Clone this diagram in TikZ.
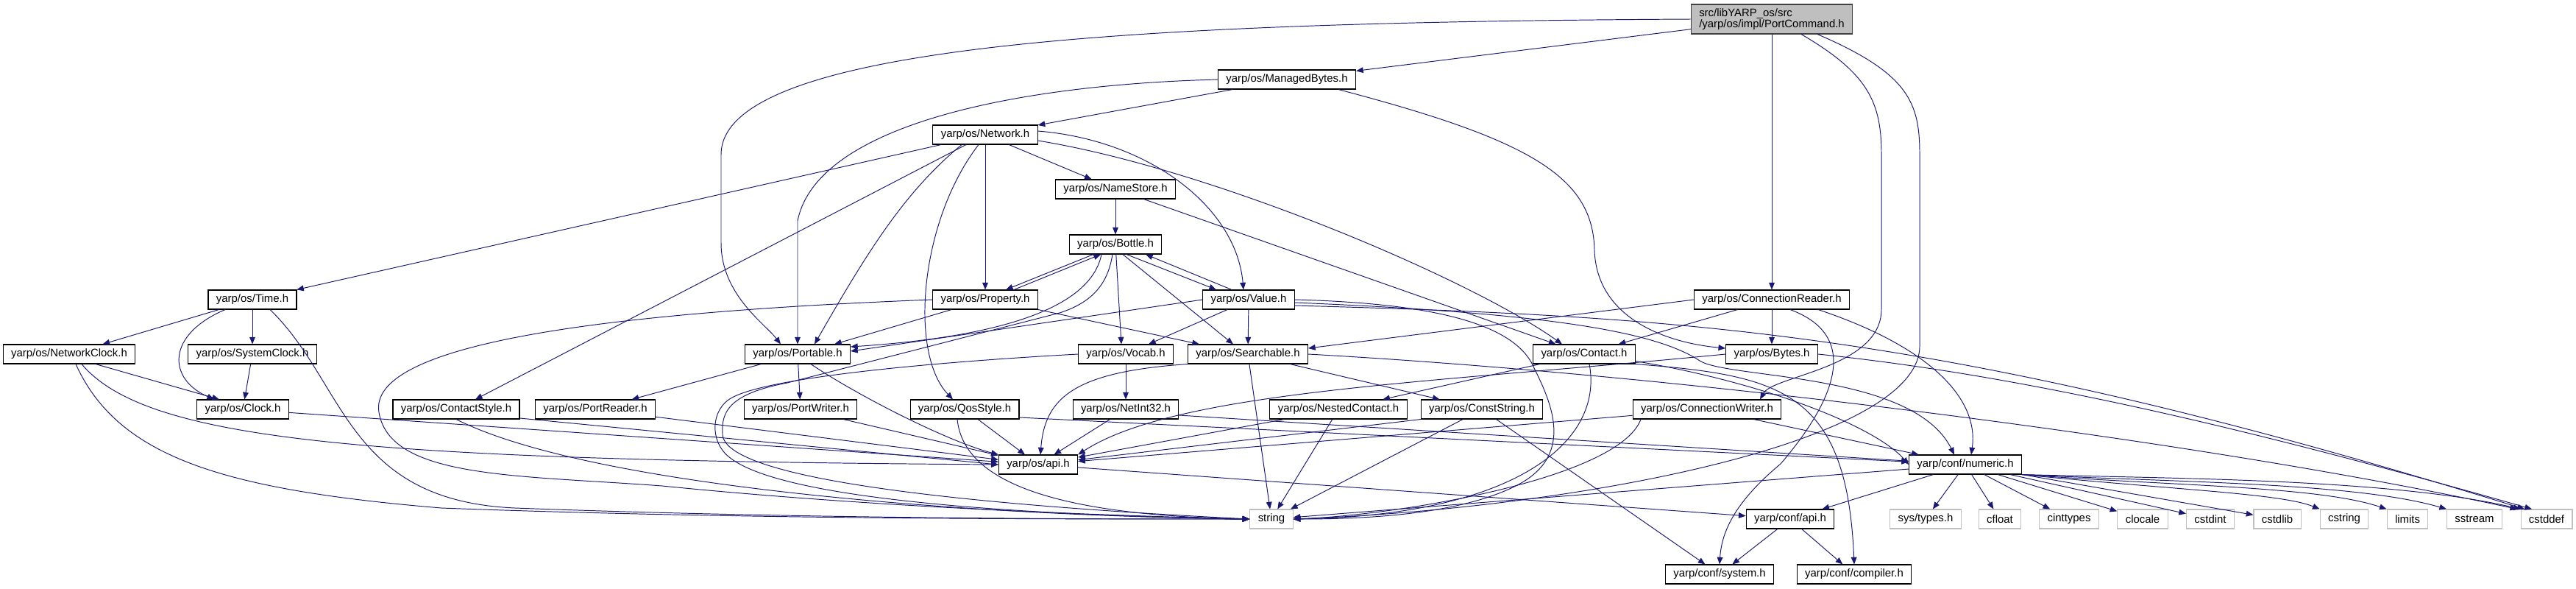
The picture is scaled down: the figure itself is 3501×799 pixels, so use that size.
\documentclass[tikz,border=0pt]{standalone}
\usepackage{fontspec}
\setmainfont{Liberation Sans}
\usepackage{tikz}
\usetikzlibrary{arrows.meta}
\definecolor{edgeblue}{HTML}{191970}
\definecolor{rootgray}{HTML}{BFBFBF}
\tikzset{
    filebox/.style={
        rectangle,
        draw=black,
        fill=white,
        line width=0.6pt,
        minimum height=0.52cm,
        inner xsep=6.2pt,
        inner ysep=0pt,
        font=\fontsize{8.5}{10}\selectfont
    },
    rootbox/.style={
        filebox,
        draw=black!75,
        fill=rootgray,
        minimum height=0.8cm,
        align=left,
        font=\fontsize{8.5}{8.9}\selectfont
    },
    sysbox/.style={
        filebox,
        draw=rootgray
    },
    arrow/.style={
        -{Triangle[length=5.5pt,width=4.4pt]},
        draw=edgeblue,
        line width=0.55pt
    }
}

\begin{document}
\begin{tikzpicture}[x=0.02cm, y=-0.02cm]
    % Root file
    \node[rootbox] (root) at (2408,26) {src/libYARP\_os/src\\/yarp/os/impl/PortCommand.h};

    % yarp/os headers, top to bottom
    \node[filebox] (managedbytes) at (1749,108) {yarp/os/ManagedBytes.h};
    \node[filebox] (network)      at (1339,183) {yarp/os/Network.h};
    \node[filebox] (namestore)    at (1516,257) {yarp/os/NameStore.h};
    \node[filebox] (bottle)       at (1516,332) {yarp/os/Bottle.h};

    \node[filebox] (time)         at (343,407)  {yarp/os/Time.h};
    \node[filebox] (property)     at (1339,407) {yarp/os/Property.h};
    \node[filebox] (value)        at (1697,407) {yarp/os/Value.h};
    \node[filebox] (connreader)   at (2408,407) {yarp/os/ConnectionReader.h};

    \node[filebox] (networkclock) at (94,481)   {yarp/os/NetworkClock.h};
    \node[filebox] (systemclock)  at (343,481)  {yarp/os/SystemClock.h};
    \node[filebox] (portable)     at (1084,481) {yarp/os/Portable.h};
    \node[filebox] (vocab)        at (1530,481) {yarp/os/Vocab.h};
    \node[filebox] (searchable)   at (1696,481) {yarp/os/Searchable.h};
    \node[filebox] (contact)      at (2153,481) {yarp/os/Contact.h};
    \node[filebox] (bytes)        at (2408,481) {yarp/os/Bytes.h};

    \node[filebox] (clock)         at (330,556)  {yarp/os/Clock.h};
    \node[filebox] (contactstyle)  at (620,556)  {yarp/os/ContactStyle.h};
    \node[filebox] (portreader)    at (809,556)  {yarp/os/PortReader.h};
    \node[filebox] (portwriter)    at (1088,556) {yarp/os/PortWriter.h};
    \node[filebox] (qosstyle)      at (1311,556) {yarp/os/QosStyle.h};
    \node[filebox] (netint)        at (1530,556) {yarp/os/NetInt32.h};
    \node[filebox] (nestedcontact) at (1819,556) {yarp/os/NestedContact.h};
    \node[filebox] (conststring)   at (2014,556) {yarp/os/ConstString.h};
    \node[filebox] (connwriter)    at (2320,556) {yarp/os/ConnectionWriter.h};

    \node[filebox] (osapi)   at (1411,631) {yarp/os/api.h};
    \node[filebox] (numeric) at (2671,631) {yarp/conf/numeric.h};

    % Bottom rows
    \node[sysbox]  (string)    at (1728,705) {string};
    \node[filebox] (confapi)   at (2433,705) {yarp/conf/api.h};
    \node[sysbox]  (systypes)  at (2617,705) {sys/types.h};
    \node[sysbox]  (cfloat)    at (2718,705) {cfloat};
    \node[sysbox]  (cinttypes) at (2812,705) {cinttypes};
    \node[sysbox]  (clocale)   at (2912,705) {clocale};
    \node[sysbox]  (cstdint)   at (3004,705) {cstdint};
    \node[sysbox]  (cstdlib)   at (3095,705) {cstdlib};
    \node[sysbox]  (cstring)   at (3186,705) {cstring};
    \node[sysbox]  (limits)    at (3272,705) {limits};
    \node[sysbox]  (sstream)   at (3363,705) {sstream};
    \node[sysbox]  (cstddef)   at (3461,705) {cstddef};
    \node[filebox] (system)    at (2337,780) {yarp/conf/system.h};
    \node[filebox] (compiler)  at (2520,780) {yarp/conf/compiler.h};

    % --- PortCommand.h ---
    \draw[arrow] (root) -- (managedbytes);
    \draw[arrow] (root.west) .. controls (1550,30) and (980,60) .. (980,210) -- (980,330)
                 .. controls (980,400) and (1040,440) .. ([shift={(-23,0)}]portable.north);
    \draw[arrow] (root) -- (connreader);
    \draw[arrow] ([shift={(40,0)}]root.south) .. controls (2540,100) and (2557,140) .. (2557,210) -- (2557,420)
                 .. controls (2557,500) and (2410,510) .. ([shift={(72,0)}]connwriter.north);
    \draw[arrow] ([shift={(62,0)}]root.south) .. controls (2595,100) and (2609,140) .. (2609,210) -- (2609,470)
                 .. controls (2609,600) and (2150,690) .. (string.east);

    % --- ManagedBytes.h ---
    \draw[arrow] (managedbytes) -- (network);
    \draw[arrow] (managedbytes.west) .. controls (1380,115) and (1110,170) .. (1084,300) -- (portable.north);
    \draw[arrow] ([shift={(70,0)}]managedbytes.south) .. controls (2080,190) and (2165,240) .. (2167,340)
                 .. controls (2170,430) and (2260,465) .. ([shift={(0,-8)}]bytes.west);

    % --- Network.h ---
    \draw[arrow] (network) -- (time);
    \draw[arrow] (network) -- (contactstyle);
    \draw[arrow] ([shift={(-32,0)}]network.south) .. controls (1230,260) and (1180,340) .. ([shift={(23,0)}]portable.north);
    \draw[arrow] ([shift={(-9,0)}]network.south) .. controls (1250,300) and (1235,480) .. ([shift={(-16,0)}]qosstyle.north);
    \draw[arrow] (network) -- (property);
    \draw[arrow] (network) -- (namestore);
    \draw[arrow] ([shift={(0,-5)}]network.east) .. controls (1560,190) and (1680,280) .. ([shift={(-7,0)}]value.north);
    \draw[arrow] ([shift={(0,8)}]network.east) .. controls (1650,230) and (2000,380) .. ([shift={(-30,0)}]contact.north);

    % --- NameStore.h ---
    \draw[arrow] (namestore) -- (bottle);
    \draw[arrow] (namestore) -- (contact);

    % --- Bottle.h, Property.h, Value.h ---
    \draw[arrow] ([shift={(-30,0)}]bottle.south) -- ([shift={(28,0)}]property.north);
    \draw[arrow] ([shift={(39,0)}]property.north) -- ([shift={(-20,0)}]bottle.south);
    \draw[arrow] ([shift={(15,0)}]bottle.south) -- ([shift={(-44,0)}]value.north);
    \draw[arrow] ([shift={(-23,0)}]value.north) -- ([shift={(41,0)}]bottle.south);
    \draw[arrow] (bottle) -- ([shift={(-6,0)}]vocab.north);
    \draw[arrow] ([shift={(10,0)}]bottle.south) -- ([shift={(-20,0)}]searchable.north);
    \draw[arrow] ([shift={(-19,0)}]bottle.south) .. controls (1480,430) and (1320,460) .. ([shift={(0,-10)}]portable.east);
    \draw[arrow] ([shift={(-4,0)}]bottle.south) .. controls (1505,390) and (1480,412) .. (1440,425) -- (1070,520)
                 .. controls (990,535) and (980,560) .. (982,590) .. controls (985,650) and (1300,685) .. (string.west);

    \draw[arrow] (property) -- ([shift={(50,0)}]portable.north);
    \draw[arrow] (property.south east) -- ([shift={(-66,0)}]searchable.north);
    \draw[arrow] (property.west) .. controls (800,425) and (500,470) .. (515,560)
                 .. controls (530,650) and (700,645) .. (900,660) .. controls (1200,690) and (1500,700) .. (string.west);

    \draw[arrow] (value.west) -- ([shift={(0,-4)}]portable.east);
    \draw[arrow] ([shift={(-29,0)}]value.south) -- ([shift={(31,0)}]vocab.north);
    \draw[arrow] (value) -- (searchable);
    \draw[arrow] (value.east) .. controls (1950,412) and (2060,440) .. (2085,500)
                 .. controls (2110,550) and (2140,620) .. (2060,660) .. controls (1980,700) and (1850,705) .. (string.east);
    \draw[arrow] ([shift={(0,4)}]value.east) .. controls (2100,425) and (2250,450) .. (2310,490)
                 .. controls (2350,515) and (2600,505) .. ([shift={(-15,0)}]numeric.north);
    \draw[arrow] ([shift={(0,8)}]value.east) .. controls (2300,430) and (2650,450) .. ([shift={(-30,0)}]cstddef.north);

    % --- Time.h and clocks ---
    \draw[arrow] (time) -- (networkclock);
    \draw[arrow] (time) -- (systemclock);
    \draw[arrow] ([shift={(-37,0)}]time.south) .. controls (225,455) and (228,515) .. ([shift={(-39,0)}]clock.north);
    \draw[arrow] ([shift={(24,0)}]time.south) .. controls (470,520) and (470,680) .. (700,690)
                 .. controls (1100,705) and (1500,705) .. (string.west);
    \draw[arrow] ([shift={(36,0)}]networkclock.south) -- ([shift={(-32,0)}]clock.north);
    \draw[arrow] ([shift={(17,0)}]networkclock.south) .. controls (200,600) and (500,625) .. (osapi.west);
    \draw[arrow] ([shift={(9,0)}]networkclock.south) .. controls (160,620) and (300,665) .. (600,690)
                 .. controls (1000,705) and (1400,705) .. (string.west);
    \draw[arrow] (systemclock) -- (clock);
    \draw[arrow] (clock) -- (osapi);

    % --- Portable.h and friends ---
    \draw[arrow] (portable) -- (portreader);
    \draw[arrow] (portable) -- (portwriter);
    \draw[arrow] ([shift={(18,0)}]portable.south) .. controls (1170,540) and (1290,600) .. (osapi.north west);
    \draw[arrow] (portreader) -- (osapi);
    \draw[arrow] (portwriter) -- (osapi);
    \draw[arrow] ([shift={(0,12)}]contactstyle.east) -- (osapi.west);
    \draw[arrow] (contactstyle.south) .. controls (800,660) and (1300,700) .. (string.west);

    \draw[arrow] (qosstyle) -- (osapi);
    \draw[arrow] ([shift={(-10,0)}]qosstyle.south) .. controls (1310,660) and (1450,700) .. (string.west);
    \draw[arrow] ([shift={(0,11)}]qosstyle.east) -- (numeric);

    % --- Vocab.h, NetInt32.h, Searchable.h ---
    \draw[arrow] (vocab) -- (netint);
    \draw[arrow] (vocab.west) .. controls (1300,490) and (1050,510) .. (995,540)
                 .. controls (965,556) and (965,600) .. (990,620) .. controls (1060,680) and (1400,700) .. (string.west);
    \draw[arrow] (netint) -- (osapi);
    \draw[arrow] ([shift={(0,8)}]netint.east) -- (numeric);
    \draw[arrow] (searchable.south west) .. controls (1460,505) and (1420,540) .. ([shift={(3,0)}]osapi.north);
    \draw[arrow] (searchable) -- (string);
    \draw[arrow] (searchable) -- (conststring);
    \draw[arrow] (searchable.east) .. controls (2300,510) and (3000,600) .. ([shift={(-40,0)}]cstddef.north);

    % --- Contact.h and friends ---
    \draw[arrow] (contact) -- (nestedcontact);
    \draw[arrow] ([shift={(7,0)}]contact.south) .. controls (2180,600) and (2060,700) .. (string.east);
    \draw[arrow] (contact.south east) .. controls (2420,510) and (2510,530) .. (compiler.north);
    \draw[arrow] ([shift={(0,-4)}]contact.south east) .. controls (2400,520) and (2550,580) .. (numeric.west);
    \draw[arrow] (nestedcontact) -- (osapi);
    \draw[arrow] (nestedcontact) -- (string);
    \draw[arrow] (conststring.south west) -- (osapi);
    \draw[arrow] (conststring) -- (string);
    \draw[arrow] (conststring) -- (system);

    % --- ConnectionReader.h, Bytes.h, ConnectionWriter.h ---
    \draw[arrow] (connreader) -- (contact);
    \draw[arrow] (connreader) -- (bytes);
    \draw[arrow] (connreader.west) -- ([shift={(0,-8)}]searchable.east);
    \draw[arrow] ([shift={(63,0)}]connreader.south) .. controls (2620,470) and (2690,540) .. ([shift={(8,0)}]numeric.north);
    \draw[arrow] ([shift={(25,0)}]connreader.south) .. controls (2540,460) and (2480,560) .. (2420,630)
                 .. controls (2360,680) and (2340,720) .. (system.north);
    \draw[arrow] (bytes.west) .. controls (1950,520) and (1600,530) .. (osapi.north east);
    \draw[arrow] (bytes.east) .. controls (2750,510) and (3050,580) .. ([shift={(-20,0)}]cstddef.north);
    \draw[arrow] (connwriter) -- (osapi);
    \draw[arrow] ([shift={(-90,0)}]connwriter.south) .. controls (2200,650) and (1900,700) .. (string.east);
    \draw[arrow] (connwriter) -- (numeric);

    % --- api.h and numeric.h ---
    \draw[arrow] (osapi) -- (confapi);
    \draw[arrow] (numeric) -- (confapi);
    \draw[arrow] (numeric) -- (string);
    \draw[arrow] (numeric) -- (systypes);
    \draw[arrow] (numeric) -- (cfloat);
    \draw[arrow] (numeric) -- (cinttypes);
    \draw[arrow] (numeric) -- (clocale);
    \draw[arrow] (numeric) -- (cstdint);
    \draw[arrow] (numeric) -- (cstdlib);
    \draw[arrow] (numeric.south east) .. controls (2950,665) and (3100,670) .. (cstring.north west);
    \draw[arrow] (numeric.south east) .. controls (2950,660) and (3150,660) .. (limits.north west);
    \draw[arrow] (numeric.south east) .. controls (2950,655) and (3200,655) .. (sstream.north west);
    \draw[arrow] (numeric.south east) .. controls (2950,650) and (3250,650) .. (cstddef.north west);
    \draw[arrow] (confapi) -- (system);
    \draw[arrow] (confapi) -- (compiler);

    % Helpers
    \useasboundingbox (0,0) rectangle (3501,799);
\end{tikzpicture}
\end{document}
